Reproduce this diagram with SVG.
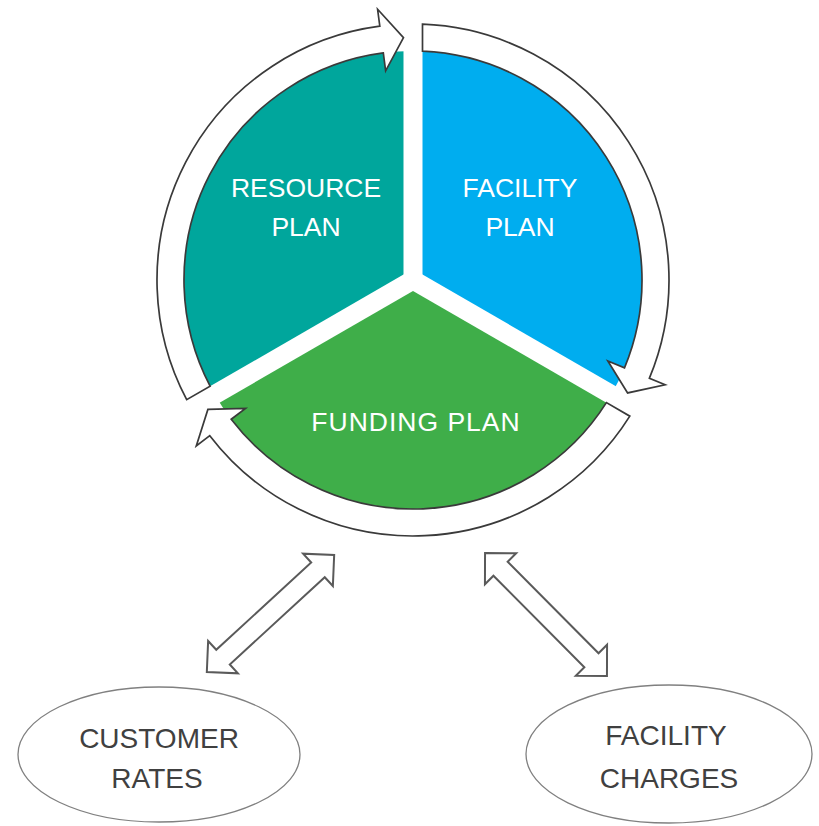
<svg xmlns="http://www.w3.org/2000/svg" width="819" height="826" viewBox="0 0 819 826">
  <style>
    .lbl { font-family: "Liberation Sans", Arial, sans-serif; font-size: 26.5px; fill: #ffffff; text-anchor: middle; }
    .olbl { font-family: "Liberation Sans", Arial, sans-serif; font-size: 28px; fill: #404040; text-anchor: middle; }
    .ring { fill: #ffffff; stroke: #3a3a3a; stroke-width: 1.7; stroke-linejoin: miter; }
    .dbl { fill: #ffffff; stroke: #5a5a5a; stroke-width: 2; }
    .ell { fill: #ffffff; stroke: #808080; stroke-width: 1.3; }
    .gap { stroke: #ffffff; stroke-width: 19; stroke-linecap: butt; }
  </style>
  <rect width="819" height="826" fill="#ffffff"/>

  <g id="resource-plan">
    <path d="M413 280 L214.68 394.5 A229 229 0 0 1 413 51 Z" fill="#00A69C"/>
    <text class="lbl" x="306" y="197">RESOURCE</text>
    <text class="lbl" x="306" y="236">PLAN</text>
  </g>
  <g id="facility-plan">
    <path d="M413 280 L413 51 A229 229 0 0 1 611.32 394.5 Z" fill="#00ADEF"/>
    <text class="lbl" x="520" y="197">FACILITY</text>
    <text class="lbl" x="520" y="236">PLAN</text>
  </g>
  <g id="funding-plan">
    <path d="M413 280 L611.32 394.5 A229 229 0 0 1 214.68 394.5 Z" fill="#3FAE49"/>
  </g>
  <g id="pie-gaps">
    <line class="gap" x1="413" y1="280" x2="413" y2="45"/>
    <line class="gap" x1="413" y1="280" x2="619" y2="399"/>
    <line class="gap" x1="413" y1="280" x2="207" y2="399"/>
    <circle cx="413" cy="280" r="9.5" fill="#ffffff"/>
  </g>
  <text class="lbl" x="416" y="431" font-size="27.5" letter-spacing="1">FUNDING PLAN</text>

  <g id="connectors">
    <path class="ring" d="M186.69 399.67 A256 256 0 0 1 379.81 26.16 L377.60 9.30 L403.48 37.69 L385.64 70.78 L383.31 52.93 A229 229 0 0 0 210.09 386.15 Z"/>
    <path class="ring" d="M422.50 24.18 A256 256 0 0 1 649.42 378.19 L665.12 384.71 L627.60 392.92 L607.86 360.93 L624.49 367.83 A229 229 0 0 0 422.50 51.20 Z"/>
    <path class="ring" d="M629.80 416.14 A256 256 0 0 1 209.78 435.68 L196.28 446.02 L207.89 409.38 L245.50 408.31 L231.21 419.26 A229 229 0 0 0 606.40 402.63 Z"/>
    <polygon class="dbl" transform="translate(270.5 613.5) rotate(-42.6)" points="-86.5,0 -64.5,-22 -64.5,-10 64.5,-10 64.5,-22 86.5,0 64.5,22 64.5,10 -64.5,10 -64.5,22"/>
    <polygon class="dbl" transform="translate(546 614.5) rotate(45.2)" points="-86.5,0 -64.5,-22 -64.5,-10 64.5,-10 64.5,-22 86.5,0 64.5,22 64.5,10 -64.5,10 -64.5,22"/>
  </g>

  <g id="customer-rates">
    <ellipse class="ell" cx="159" cy="754.5" rx="141" ry="67.5"/>
    <text class="olbl" x="159" y="748">CUSTOMER</text>
    <text class="olbl" x="157" y="788">RATES</text>
  </g>
  <g id="facility-charges">
    <ellipse class="ell" cx="669" cy="754" rx="143" ry="69"/>
    <text class="olbl" x="666" y="745">FACILITY</text>
    <text class="olbl" x="669" y="788">CHARGES</text>
  </g>
</svg>
